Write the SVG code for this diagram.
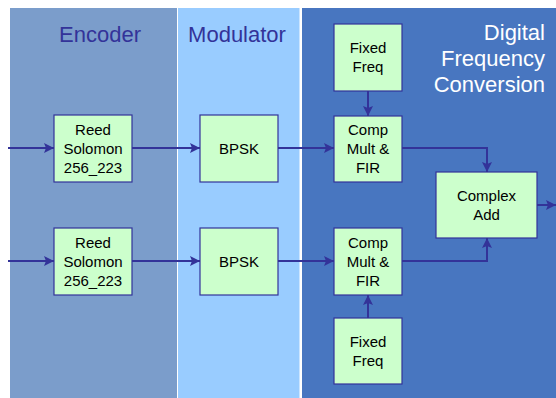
<svg xmlns="http://www.w3.org/2000/svg" width="556" height="398" viewBox="0 0 556 398">
<style>
.box{fill:#CCFFCC;stroke:#333399;stroke-width:1.2}
.t{font-family:"Liberation Sans",Arial,sans-serif;font-size:15px;fill:#000;text-anchor:middle}
.h{font-family:"Liberation Sans",Arial,sans-serif;font-size:22px;fill:#333399;text-anchor:middle}
.w{font-family:"Liberation Sans",Arial,sans-serif;font-size:22px;fill:#FFFFFF;text-anchor:end}
.c{fill:none;stroke:#333399;stroke-width:2;marker-end:url(#ah)}
</style>
<defs>
<marker id="ah" viewBox="0 0 10 10" refX="10" refY="5" markerWidth="5" markerHeight="5" orient="auto" markerUnits="strokeWidth">
<path d="M0,0 L10,5 L0,10 L2,5 Z" fill="#333399"/>
</marker>
</defs>
<rect width="556" height="398" fill="#FFFFFF"/>
<g id="panels">
<rect x="10" y="8" width="167" height="390" fill="#7B9DCB"/>
<rect x="178" y="8" width="121.5" height="390" fill="#99CCFF"/>
<rect x="302" y="8" width="254" height="390" fill="#4876C0"/>
<text class="h" x="100" y="42">Encoder</text>
<text class="h" x="237" y="42">Modulator</text>
<text class="w" x="545" y="40">Digital</text>
<text class="w" x="545" y="66">Frequency</text>
<text class="w" x="545" y="92">Conversion</text>
</g>
<g id="connectors">
<path class="c" d="M8,148 H54"/>
<path class="c" d="M132,148 H200"/>
<path class="c" d="M278,148 H334"/>
<path class="c" d="M8,261 H54"/>
<path class="c" d="M132,261 H200"/>
<path class="c" d="M278,261 H334"/>
<path class="c" d="M368,91 V116"/>
<path class="c" d="M368,318 V295"/>
<path class="c" d="M402,148 H487 V172"/>
<path class="c" d="M402,261 H487 V238"/>
<path class="c" d="M537,205 H556"/>
</g>
<g id="rs1"><rect class="box" x="54" y="115" width="78" height="67"/>
<text class="t" x="93" y="135">Reed</text><text class="t" x="93" y="154">Solomon</text><text class="t" x="93" y="173">256_223</text></g>
<g id="rs2"><rect class="box" x="54" y="228" width="78" height="67"/>
<text class="t" x="93" y="248">Reed</text><text class="t" x="93" y="267">Solomon</text><text class="t" x="93" y="286">256_223</text></g>
<g id="bpsk1"><rect class="box" x="200" y="115" width="78" height="67"/>
<text class="t" x="239" y="154">BPSK</text></g>
<g id="bpsk2"><rect class="box" x="200" y="228" width="78" height="67"/>
<text class="t" x="239" y="267">BPSK</text></g>
<g id="ff1"><rect class="box" x="334" y="24" width="68" height="67"/>
<text class="t" x="368" y="53">Fixed</text><text class="t" x="368" y="72">Freq</text></g>
<g id="cm1"><rect class="box" x="334" y="116" width="68" height="66"/>
<text class="t" x="368" y="135">Comp</text><text class="t" x="368" y="154">Mult &amp;</text><text class="t" x="368" y="173">FIR</text></g>
<g id="cm2"><rect class="box" x="334" y="228" width="68" height="67"/>
<text class="t" x="368" y="248">Comp</text><text class="t" x="368" y="267">Mult &amp;</text><text class="t" x="368" y="286">FIR</text></g>
<g id="ff2"><rect class="box" x="334" y="318" width="68" height="66"/>
<text class="t" x="368" y="347">Fixed</text><text class="t" x="368" y="366">Freq</text></g>
<g id="add"><rect class="box" x="436" y="172" width="101" height="66"/>
<text class="t" x="486.5" y="201">Complex</text><text class="t" x="486.5" y="220">Add</text></g>
</svg>
